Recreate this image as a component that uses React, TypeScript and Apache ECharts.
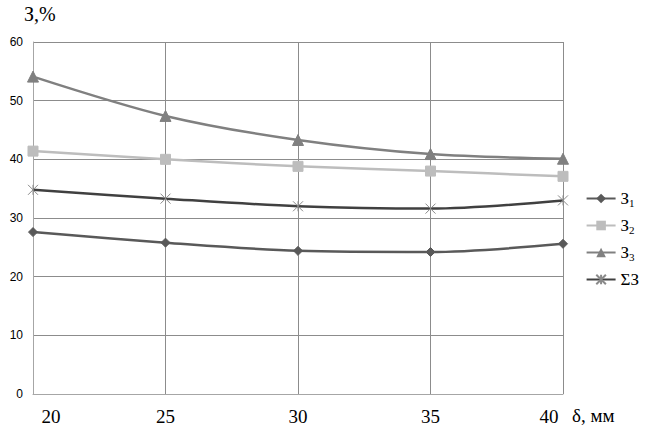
import React, { useEffect, useRef } from "react";
import * as echarts from "echarts";

const categories = ["20", "25", "30", "35", "40"];
const z1 = [27.6, 25.8, 24.4, 24.2, 25.6];
const z2 = [41.4, 40.0, 38.8, 38.0, 37.1];
const z3 = [54.1, 47.4, 43.3, 40.9, 40.1];
const zSum = [34.8, 33.3, 32.0, 31.6, 33.0];
const seriesNames = ["З1", "З2", "З3", "ΣЗ"];

const crossPath = "path://M0,0L10,10M10,0L0,10M5,0L5,10";

export default function App() {
  const ref = useRef<HTMLDivElement>(null);
  useEffect(() => {
    const chart = echarts.init(ref.current!, null, { renderer: "svg" });
    const serif = "Times New Roman, serif";
    const mk = (name: string, data: number[], color: string, symbol: string, size: number, width: number) => ({
      name,
      type: "line",
      data,
      smooth: 0.3,
      symbol,
      symbolSize: size,
      showSymbol: true,
      lineStyle: { color, width },
      itemStyle: { color, borderColor: color },
    });
    const last = categories.length - 1;
    chart.setOption({
      animation: false,
      backgroundColor: "#ffffff",
      grid: { left: 33, right: 89, top: 42, bottom: 41, containLabel: false },
      xAxis: {
        type: "category",
        data: categories,
        boundaryGap: false,
        axisLine: { show: true, lineStyle: { color: "#a6a6a6", width: 1 } },
        axisTick: { show: false },
        splitLine: { show: true, lineStyle: { color: "#8c8c8c", width: 1 } },
        axisLabel: {
          fontFamily: serif,
          fontSize: 19,
          color: "#000",
          margin: 13,
          formatter: (v: string, i: number) => (i === 0 ? "{first|" + v + "}" : i === last ? "{lastl|" + v + "}" : v),
          rich: {
            first: { fontFamily: serif, fontSize: 19, color: "#000", padding: [0, 0, 0, 36] },
            lastl: { fontFamily: serif, fontSize: 19, color: "#000", padding: [0, 28, 0, 0] },
          },
        },
      },
      yAxis: {
        type: "value",
        min: 0,
        max: 60,
        interval: 10,
        axisLine: { show: true, lineStyle: { color: "#a6a6a6", width: 1 } },
        axisTick: { show: false },
        splitLine: { show: true, lineStyle: { color: "#8c8c8c", width: 1 } },
        axisLabel: { fontFamily: "Liberation Sans", fontSize: 12, color: "#000", margin: 10 },
      },
      legend: {
        orient: "vertical",
        right: 8,
        top: 185,
        itemWidth: 29,
        itemHeight: 12,
        itemGap: 9,
        data: seriesNames,
        formatter: (n: string) => {
          if (n === "ΣЗ") return "ΣЗ";
          return n.charAt(0) + "{sub|" + n.slice(1) + "}";
        },
        textStyle: {
          fontFamily: serif,
          fontSize: 17,
          color: "#000",
          rich: { sub: { fontFamily: serif, fontSize: 11, color: "#000", verticalAlign: "bottom", padding: [8, 0, 0, 0] } },
        },
      },
      series: [
        mk("З1", z1, "#595959", "diamond", 9, 2.5),
        mk("З2", z2, "#bdbdbd", "rect", 10, 2.5),
        mk("З3", z3, "#808080", "triangle", 11, 2.5),
        {
          ...mk("ΣЗ", zSum, "#404040", crossPath, 10, 2.5),
          itemStyle: { color: "none", borderColor: "#8a8a8a", borderWidth: 1 },
        },
      ],
      graphic: [
        { type: "text", left: 24, top: 4, style: { text: "З,%", fontFamily: serif, fontSize: 20, fill: "#000" } },
        { type: "text", left: 572, top: 406, style: { text: "δ, мм", fontFamily: serif, fontSize: 19, fill: "#000" } },
      ],
    });
    return () => chart.dispose();
  }, []);
  return <div ref={ref} style={{ width: 652, height: 435, position: "absolute", left: 0, top: 0 }} />;
}
